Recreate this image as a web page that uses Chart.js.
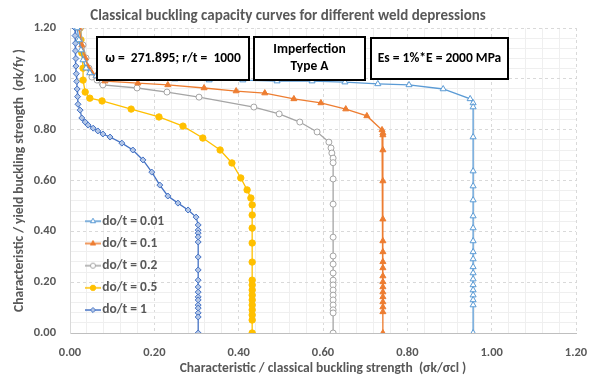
<!DOCTYPE html>
<html><head><meta charset="utf-8">
<script src="https://cdn.jsdelivr.net/npm/chart.js@4.4.1/dist/chart.umd.min.js"></script>
<style>html,body{margin:0;padding:0;background:#fff}#wrap{width:600px;height:383px;position:relative}</style>
</head><body><div id="wrap"><canvas id="c" width="600" height="383"></canvas></div>
<script>
const seriesNames = ['do/t = 0.01','do/t = 0.1','do/t = 0.2','do/t = 0.5','do/t = 1'];
const xTicks = [0,0.2,0.4,0.6,0.8,1.0,1.2];

const x001 = [0.017,0.021,0.026,0.031,0.038,0.047,0.062,0.088,0.249,0.330,0.410,0.491,0.574,0.652,0.730,0.804,0.885,0.949,0.956,0.956,0.956,0.956,0.956,0.956,0.956,0.956,0.956,0.956,0.956,0.956,0.956,0.956,0.956,0.956,0.956,0.956,0.956,0.956];
const y001 = [1.2,1.153,1.113,1.074,1.042,1.023,1.011,0.999,0.999,0.995,0.995,0.991,0.991,0.987,0.980,0.976,0.960,0.921,0.905,0.889,0.771,0.637,0.578,0.523,0.460,0.413,0.362,0.319,0.291,0.260,0.236,0.212,0.189,0.169,0.149,0.130,0.110,0.0];

const x01 = [0.021,0.028,0.036,0.043,0.052,0.062,0.071,0.083,0.161,0.232,0.318,0.394,0.462,0.531,0.595,0.654,0.704,0.740,0.742,0.742,0.742,0.742,0.742,0.742,0.742,0.742,0.742,0.742,0.742,0.742,0.742,0.742,0.742,0.742,0.742,0.742];
const y01 = [1.2,1.133,1.082,1.046,1.023,1.011,1.003,0.991,0.983,0.976,0.964,0.952,0.944,0.921,0.905,0.881,0.854,0.799,0.787,0.779,0.720,0.598,0.448,0.362,0.319,0.280,0.256,0.224,0.201,0.181,0.161,0.142,0.122,0.102,0.083,0.0];

const x02 = [0.024,0.031,0.038,0.045,0.052,0.064,0.076,0.078,0.159,0.230,0.306,0.436,0.496,0.545,0.586,0.614,0.619,0.621,0.624,0.624,0.624,0.624,0.624,0.624,0.624,0.624,0.624,0.624,0.624,0.624,0.624,0.624,0.624,0.624,0.624];
const y02 = [1.2,1.133,1.082,1.042,1.007,0.995,0.983,0.976,0.964,0.948,0.928,0.889,0.862,0.830,0.791,0.751,0.728,0.708,0.688,0.670,0.606,0.507,0.377,0.303,0.271,0.236,0.208,0.189,0.169,0.149,0.130,0.110,0.091,0.079,0.0];

const x05 = [0.024,0.026,0.028,0.031,0.031,0.036,0.047,0.076,0.145,0.211,0.268,0.315,0.356,0.384,0.405,0.420,0.429,0.432,0.432,0.432,0.432,0.432,0.432,0.432,0.432,0.432,0.432,0.432,0.432,0.432,0.432,0.432];
const y05 = [1.2,1.153,1.102,1.042,0.995,0.948,0.924,0.913,0.881,0.850,0.814,0.767,0.720,0.669,0.610,0.563,0.531,0.504,0.464,0.413,0.354,0.279,0.208,0.189,0.169,0.149,0.130,0.110,0.091,0.071,0.051,0.0];

const x1 = [0.012,0.012,0.013,0.013,0.014,0.014,0.015,0.016,0.017,0.018,0.019,0.024,0.028,0.036,0.043,0.055,0.066,0.078,0.095,0.123,0.149,0.173,0.194,0.213,0.232,0.256,0.280,0.299,0.304,0.304,0.304,0.304,0.304,0.304,0.304,0.304,0.304,0.304,0.304,0.304,0.304,0.304,0.304,0.304,0.304];
const y1 = [1.2,1.17,1.14,1.11,1.08,1.05,1.02,0.99,0.96,0.93,0.90,0.877,0.846,0.830,0.818,0.806,0.795,0.783,0.771,0.747,0.720,0.681,0.633,0.582,0.539,0.511,0.484,0.456,0.425,0.405,0.393,0.378,0.358,0.299,0.248,0.208,0.181,0.161,0.142,0.130,0.110,0.098,0.079,0.063,0.0];

const FONT = 'Carlito, Calibri, Lato, sans-serif';
const GREY = '#595959';

function pts(xs, ys){ return xs.map((x,i)=>({x:x, y:ys[i]})); }

const styles = [
  {c:'#5B9BD5', ps:'triangle', bg:'#FFFFFF', r:3.5},
  {c:'#ED7D31', ps:'triangle', bg:'#ED7D31', r:3.5},
  {c:'#A5A5A5', ps:'circle', bg:'#FFFFFF', r:3},
  {c:'#FFC000', ps:'circle', bg:'#FFC000', r:3.2},
  {c:'#4472C4', ps:'rectRot', bg:'#B4C7E7', r:3}
];
const allX = [x001,x01,x02,x05,x1], allY = [y001,y01,y02,y05,y1];

const datasets = seriesNames.map((n,i)=>({
  label:n, data:pts(allX[i],allY[i]), showLine:true, borderColor:styles[i].c, borderWidth:1.3,
  pointStyle:styles[i].ps, pointRadius:styles[i].r, pointBorderColor:styles[i].c,
  pointBackgroundColor:styles[i].bg, pointBorderWidth:1, tension:0
}));

function legendIcon(st){
  const cv = document.createElement('canvas'); cv.width = 28; cv.height = 10;
  const g = cv.getContext('2d');
  g.strokeStyle = st.c; g.lineWidth = 1.5;
  g.beginPath(); g.moveTo(12,5); g.lineTo(28,5); g.stroke();
  g.fillStyle = st.bg; g.strokeStyle = st.c; g.lineWidth = 1;
  Chart.helpers.drawPoint(g, {pointStyle:st.ps, radius:st.r*0.85, borderWidth:1, rotation:0}, 20, 5);
  return cv;
}
const icons = styles.map(legendIcon);

const boxes = [
  {x0:97, y0:37, x1:249, y1:80, lines:['ω =  271.895; r/t =  1000']},
  {x0:254, y0:37, x1:365, y1:80, lines:['Imperfection','Type A']},
  {x0:371, y0:38, x1:508, y1:79, lines:['Es = 1%*E = 2000 MPa']}
];

const boxPlugin = {
  id:'boxes',
  afterLayout(chart){
    const l = chart.legend;
    if(l){ l.left = 69.8; l.right = 200; l.top = 205.8; l.bottom = 333; }
  },
  afterDraw(chart){
    const ctx = chart.ctx;
    ctx.save();
    boxes.forEach(b=>{
      ctx.fillStyle='#fff'; ctx.fillRect(b.x0,b.y0,b.x1-b.x0,b.y1-b.y0);
      ctx.strokeStyle='#000'; ctx.lineWidth=2; ctx.strokeRect(b.x0,b.y0,b.x1-b.x0,b.y1-b.y0);
      ctx.fillStyle='#000'; ctx.font='bold 13.5px '+FONT; ctx.textAlign='center'; ctx.textBaseline='middle';
      const cx=(b.x0+b.x1)/2, cy=(b.y0+b.y1)/2, lh=17;
      b.lines.forEach((t,k)=>{ ctx.fillText(t, cx, cy + (k-(b.lines.length-1)/2)*lh); });
    });
    ctx.restore();
  }
};

const gridColor = (ctx)=> (ctx.index % 5 === 0) ? '#D9D9D9' : '#EFEFEF';
const gridDash = (ctx)=> (ctx.index !== undefined && ctx.index % 5 === 0 && ctx.index !== 0) ? [3,3] : [];

new Chart(document.getElementById('c'), {
  type:'scatter',
  data:{datasets},
  plugins:[boxPlugin],
  options:{
    responsive:false, animation:false, devicePixelRatio:1,
    layout:{padding:{left:0,right:24,top:0,bottom:0}},
    plugins:{
      title:{display:true, text:'Classical buckling capacity curves for different weld depressions', color:GREY,
        font:{family:FONT, size:15, weight:'bold'}, padding:{top:7,bottom:3}},
      legend:{position:'chartArea', align:'start',
        labels:{usePointStyle:true, pointStyleWidth:17, boxHeight:13, padding:8.7, color:GREY,
          font:{family:FONT, size:13.5, weight:'bold'},
          generateLabels:(chart)=>chart.data.datasets.map((d,i)=>({text:d.label, pointStyle:icons[i], fillStyle:styles[i].c, strokeStyle:styles[i].c, lineWidth:0, hidden:false, datasetIndex:i, fontColor:GREY}))
        }},
      tooltip:{enabled:false}
    },
    scales:{
      x:{type:'linear', min:0, max:1.2,
        afterFit:(s)=>{ s.height = 50; },
        ticks:{stepSize:0.04, autoSkip:false, maxRotation:0, padding:12, color:GREY, font:{family:FONT,size:12.5,weight:'bold'},
          callback:(v,i)=> (i%5===0) ? xTicks[i/5].toFixed(2) : ''},
        grid:{color:gridColor, drawTicks:false, lineWidth:1},
        border:{color:'#BFBFBF', width:1, dash:gridDash},
        title:{display:true, text:'Characteristic / classical buckling strength  (σk/σcl )', color:GREY,
          font:{family:FONT,size:13.5,weight:'bold'}, padding:{top:0,bottom:6}}
      },
      y:{type:'linear', min:0, max:1.2,
        afterFit:(s)=>{ s.width = 70; },
        ticks:{stepSize:0.04, autoSkip:false, padding:14, color:GREY, font:{family:FONT,size:12.5,weight:'bold'},
          callback:(v,i)=> (i%5===0) ? xTicks[i/5].toFixed(2) : ''},
        grid:{color:gridColor, drawTicks:false, lineWidth:1},
        border:{color:'#D9D9D9', width:1, dash:gridDash},
        title:{display:true, text:'Characteristic / yield buckling strength  (σk/fy )', color:GREY,
          font:{family:FONT,size:13.5,weight:'bold'}, padding:{top:12,bottom:0}}
      }
    }
  }
});
</script></body></html>
